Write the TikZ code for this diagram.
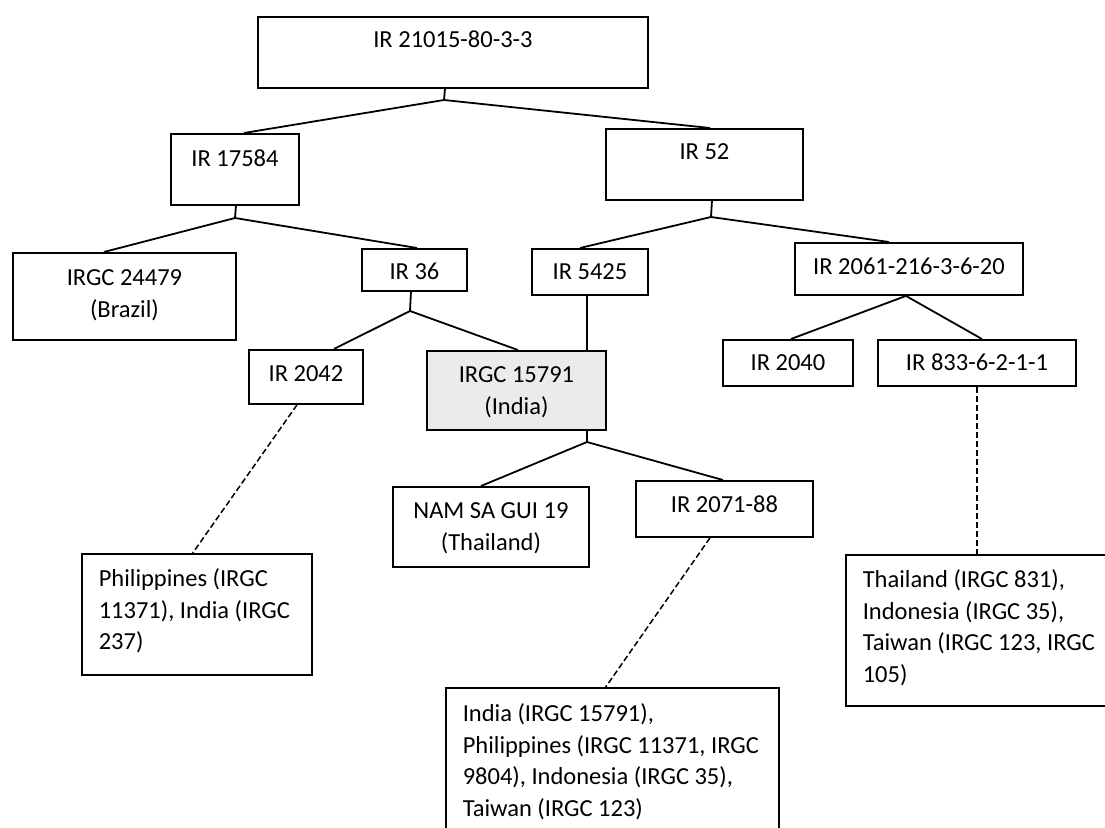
\documentclass[tikz,border=0pt]{standalone}
\usepackage{fontspec}
\setmainfont{Carlito}
\begin{document}
\begin{tikzpicture}[x=1pt, y=-1pt]

\useasboundingbox (0,0) rectangle (1105,827);
\clip (0,0) rectangle (1105,827);

\tikzset{every node/.style={draw, line width=1.9pt, anchor=north west, inner sep=0pt, align=flush center, font=\fontsize{24.5}{31.5}\selectfont}} 
\node[text width=390pt, text height=31pt, text depth=40pt] (top) at (257, 16) {IR 21015-80-3-3};
\node[text width=128pt, text height=33pt, text depth=38pt] (n17584) at (170, 133) {IR 17584};
\node[text width=197pt, text height=31pt, text depth=40pt] (n52) at (605, 128) {IR 52};
\node[text width=223pt, text height=33pt, text depth=54pt] (n24479) at (12, 252) {IRGC~24479\\(Brazil)};
\node[text width=105pt, text height=31pt, text depth=11pt] (n36) at (361, 248) {IR 36};
\node[text width=116pt, text height=31pt, text depth=15pt] (n5425) at (531, 248) {IR 5425};
\node[text width=228pt, text height=32pt, text depth=20pt] (n2061) at (794, 242) {IR 2061-216-3-6-20};
\node[text width=114pt, text height=32pt, text depth=22pt] (n2042) at (248, 349) {IR 2042};
\node[fill=black!8, text width=179pt, text height=32pt, text depth=47pt] (n15791) at (426, 350) {IRGC~15791\\(India)};
\node[text width=130pt, text height=31pt, text depth=15pt] (n2040) at (722, 339) {IR 2040};
\node[text width=198pt, text height=31pt, text depth=15pt] (n833) at (877, 339) {IR 833-6-2-1-1};
\node[text width=196pt, text height=32pt, text depth=48pt] (nsg19) at (392, 486) {NAM~SA~GUI~19\\(Thailand)};
\node[text width=177pt, text height=32pt, text depth=24pt] (n2071) at (635, 480) {IR 2071-88};

\tikzset{every node/.style={draw, line width=1.5pt, anchor=north west, inner xsep=17pt, inner ysep=0pt, align=flush left, font=\fontsize{24.5}{31.5}\selectfont}} 
\node[text width=196pt, text height=33pt, text depth=88pt] (phil) at (81, 553) {Philippines~(IRGC\\11371),~India~(IRGC\\237)};
\node[text width=246pt, text height=33pt, text depth=118pt] (thai) at (845, 554) {Thailand~(IRGC~831),\\Indonesia~(IRGC~35),\\Taiwan~(IRGC~123,~IRGC\\105)};
\node[text width=299pt, text height=34pt, text depth=129pt] (india) at (445, 687) {India~(IRGC~15791),\\Philippines~(IRGC~11371,~IRGC\\9804),~Indonesia~(IRGC~35),\\Taiwan~(IRGC~123)};

\tikzset{every node/.style={}}; 
\coordinate (j1) at (444, 100);
\coordinate (j2) at (235, 218);
\coordinate (j3) at (410, 311);
\coordinate (j5) at (711, 217);
\coordinate (j4) at (587, 442);

\tikzset{mystyle/.style={line width=1.8pt}};  
\path ([xshift=-8pt]top.south) edge [mystyle] (j1);
\path (j1) edge [mystyle] ([xshift=9pt]n17584.north);
\path (j1) edge [mystyle] ([xshift=5.5pt]n52.north);
\path ([xshift=1pt]n17584.south) edge [mystyle] (j2);
\path (j2) edge [mystyle] ([xshift=-20.5pt]n24479.north);
\path (j2) edge [mystyle] ([xshift=2.5pt]n36.north);
\path ([xshift=-3.5pt]n36.south) edge [mystyle] (j3);
\path (j3) edge [mystyle] ([xshift=28pt]n2042.north);
\path (j3) edge [mystyle] ([xshift=1.5pt]n15791.north);
\path ([xshift=7.5pt]n52.south) edge [mystyle] (j5);
\path (j5) edge [mystyle] ([xshift=-10pt]n5425.north);
\path (j5) edge [mystyle] ([xshift=-20pt]n2061.north);
\path (j4 |- n5425.south) edge [mystyle] (j4 |- n15791.north);
\path (j4 |- n15791.south) edge [mystyle] (j4);
\path (j4) edge [mystyle] ([xshift=-10pt]nsg19.north);
\path (j4) edge [mystyle] ([xshift=-1.5pt]n2071.north);
\path ([xshift=-3pt]n2061.south) edge [mystyle] ([xshift=3pt]n2040.north);
\path ([xshift=-3pt]n2061.south) edge [mystyle] ([xshift=5pt]n833.north);

\tikzset{mystyle/.style={line width=1.5pt, dash pattern=on 6pt off 3pt}};  
\path ([xshift=-9pt]n2042.south) edge [mystyle] ([xshift=-4pt]phil.north);
\path ([xshift=-14.5pt]n2071.south) edge [mystyle] ([xshift=-6.5pt]india.north);
\path (n833.south) edge [mystyle] (n833.south |- thai.north);
\end{tikzpicture}
\end{document}
